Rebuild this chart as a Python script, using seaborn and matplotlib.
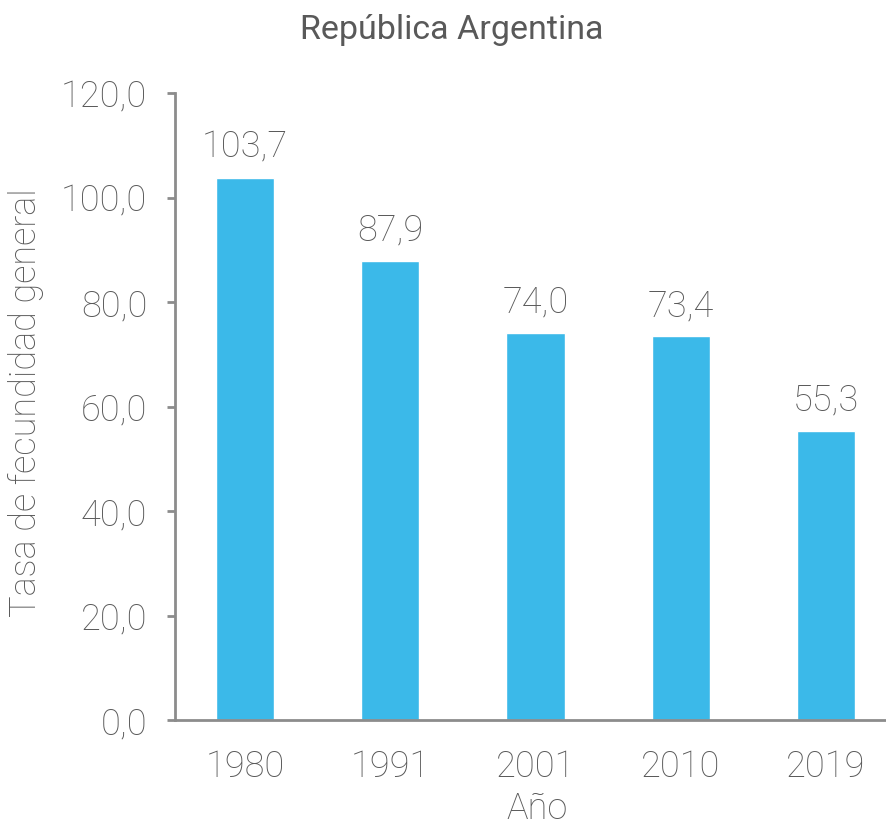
import numpy as np
import pandas as pd
import seaborn as sns
import matplotlib.pyplot as plt

years = ["1980", "1991", "2001", "2010", "2019"]
tasa = [103.7, 87.9, 74.0, 73.4, 55.3]

df = pd.DataFrame({"Año": years, "Tasa": tasa})

sns.set_theme(style="white")
plt.rcParams['font.family'] = ['Roboto', 'DejaVu Sans']

text_c = "#595959"
axis_c = "#8c8c8c"
bar_c = "#3bb9e9"
fs = 26

fig = plt.figure(figsize=(8.87, 8.27), dpi=100)
ax = fig.add_axes([175/887, 1-720/827, 1-175/887, (720-93)/827])

sns.barplot(data=df, x="Año", y="Tasa", color=bar_c, width=0.4,
            saturation=1, ax=ax)

ax.set_ylim(0, 120)
ax.set_xlim(-0.482, 4.42)
ax.set_yticks(np.arange(0, 121, 20))
ax.set_yticklabels([f"{v:.1f}".replace(".", ",") for v in np.arange(0, 121, 20)])

for i, v in enumerate(tasa):
    ax.annotate(f"{v:.1f}".replace(".", ","), (i, v), xytext=(0, 9),
                textcoords="offset points", ha="center", va="bottom",
                fontsize=fs, fontweight="light", color=text_c)

sns.despine(ax=ax)
for s in ["left", "bottom"]:
    ax.spines[s].set_color(axis_c)
    ax.spines[s].set_linewidth(2)

ax.tick_params(axis="y", left=True, length=6, width=2, color=axis_c, pad=14,
               labelsize=fs, labelcolor=text_c)
ax.tick_params(axis="x", bottom=False, pad=15, labelsize=fs, labelcolor=text_c)
for lab in ax.get_xticklabels() + ax.get_yticklabels():
    lab.set_fontweight("light")

ax.set_ylabel("Tasa de fecundidad general", fontsize=fs, fontweight="light",
              color=text_c)
ax.yaxis.set_label_coords(-0.184, 0.506)
ax.set_xlabel("Año", fontsize=fs, fontweight="light", color=text_c)
ax.xaxis.set_label_coords(0.508, -0.113)

fig.text(452/887, 1-30/827, "República Argentina", ha="center", va="center",
         fontsize=24.5, color=text_c)

fig.savefig("out.png", dpi=100, facecolor="white")
